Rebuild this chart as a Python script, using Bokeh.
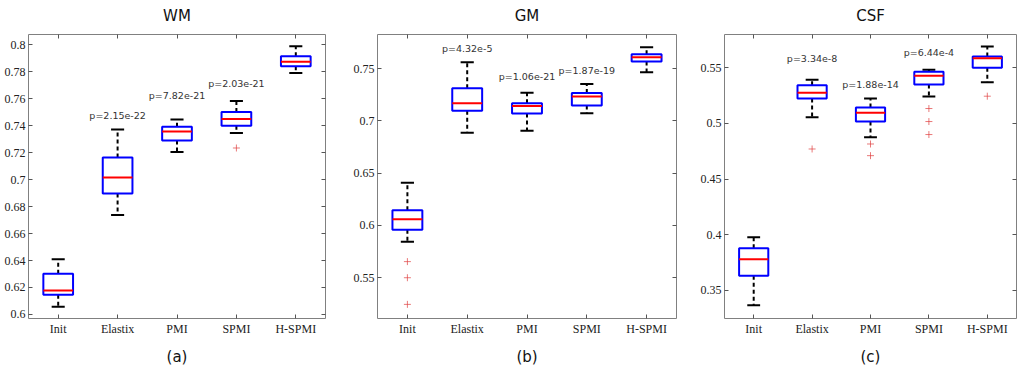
from bokeh.plotting import figure
from bokeh.layouts import row
from bokeh.models import (ColumnDataSource, FixedTicker, LinearAxis, Range1d,
                          CustomJSTickFormatter)
from bokeh.core.properties import value
from bokeh.embed import file_html
from bokeh.resources import INLINE

cats = ["Init", "Elastix", "PMI", "SPMI", "H-SPMI"]

# ---- WM ----
wm_low = [0.6058, 0.6738, 0.7206, 0.7347, 0.7791]
wm_q1 = [0.6146, 0.6897, 0.7290, 0.7400, 0.7841]
wm_med = [0.6177, 0.7016, 0.7358, 0.7450, 0.7874]
wm_q3 = [0.6302, 0.7164, 0.7392, 0.7502, 0.7916]
wm_high = [0.6410, 0.7373, 0.7447, 0.7584, 0.7990]
wm_out_cat = ["SPMI"]
wm_out_val = [0.7235]
wm_p_cat = ["Elastix", "PMI", "SPMI"]
wm_p_txt = ["p=2.15e-22", "p=7.82e-21", "p=2.03e-21"]
wm_p_y = [0.7478, 0.7627, 0.7714]
wm_ticks = [0.6, 0.62, 0.64, 0.66, 0.68, 0.7, 0.72, 0.74, 0.76, 0.78, 0.8]

# ---- GM ----
gm_low = [0.5843, 0.6887, 0.6906, 0.7072, 0.7465]
gm_q1 = [0.5958, 0.7096, 0.7070, 0.7146, 0.7567]
gm_med = [0.6060, 0.7168, 0.7142, 0.7232, 0.7608]
gm_q3 = [0.6146, 0.7312, 0.7168, 0.7266, 0.7637]
gm_high = [0.6408, 0.7560, 0.7268, 0.7353, 0.7704]
gm_out_cat = ["Init", "Init", "Init"]
gm_out_val = [0.5654, 0.5500, 0.5245]
gm_p_cat = ["Elastix", "PMI", "SPMI"]
gm_p_txt = ["p=4.32e-5", "p=1.06e-21", "p=1.87e-19"]
gm_p_y = [0.7688, 0.7423, 0.7481]
gm_ticks = [0.55, 0.6, 0.65, 0.7, 0.75]

# ---- CSF ----
csf_low = [0.3365, 0.5056, 0.4876, 0.5242, 0.5371]
csf_q1 = [0.3630, 0.5224, 0.5017, 0.5350, 0.5500]
csf_med = [0.3779, 0.5275, 0.5095, 0.5428, 0.5587]
csf_q3 = [0.3878, 0.5344, 0.5143, 0.5464, 0.5603]
csf_high = [0.3975, 0.5392, 0.5224, 0.5482, 0.5693]
csf_out_cat = ["Elastix", "PMI", "PMI", "SPMI", "SPMI", "SPMI", "H-SPMI"]
csf_out_val = [0.4770, 0.4815, 0.4710, 0.5134, 0.5017, 0.4900, 0.5245]
csf_p_cat = ["Elastix", "PMI", "SPMI"]
csf_p_txt = ["p=3.34e-8", "p=1.88e-14", "p=6.44e-4"]
csf_p_y = [0.5581, 0.5350, 0.5635]
csf_ticks = [0.35, 0.4, 0.45, 0.5, 0.55]

TICK_FONT = "Liberation Serif"
BOX_W = 0.5
CAP_W = 0.22
FRAME_H = 284


def make_panel(title, sub, low, q1, med, q3, high, out_cat, out_val,
               p_cat, p_txt, p_y, yticks, yr, fw, mbl, mbr):
    p = figure(frame_width=fw, frame_height=FRAME_H, output_backend="svg",
               toolbar_location=None, x_range=Range1d(0.5, 5.5),
               y_range=Range1d(*yr), min_border_left=mbl,
               min_border_right=mbr, min_border_top=29, min_border_bottom=0,
               title=title)
    p.title.align = "center"
    p.title.text_font = "DejaVu Sans"
    p.title.text_font_size = "15px"
    p.title.text_font_style = "normal"
    p.title.text_color = "#111111"
    p.title.standoff = 20
    p.grid.visible = False
    p.outline_line_color = "#808080"
    p.outline_line_width = 1
    p.background_fill_color = "white"
    p.border_fill_color = "white"

    xs = [cats.index(c) + 1 for c in cats]
    src = ColumnDataSource(dict(
        x=xs,
        bl=[x - BOX_W / 2 for x in xs], br=[x + BOX_W / 2 for x in xs],
        cl=[x - CAP_W / 2 for x in xs], cr=[x + CAP_W / 2 for x in xs],
        low=low, q1=q1, med=med, q3=q3, high=high))
    # whiskers
    p.segment(x0="x", y0="q3", x1="x", y1="high", source=src,
              line_color="black", line_width=2, line_dash="4 3")
    p.segment(x0="x", y0="q1", x1="x", y1="low", source=src,
              line_color="black", line_width=2, line_dash="4 3")
    # caps
    p.segment(x0="cl", y0="high", x1="cr", y1="high", source=src,
              line_color="black", line_width=2)
    p.segment(x0="cl", y0="low", x1="cr", y1="low", source=src,
              line_color="black", line_width=2)
    # boxes
    p.quad(left="bl", right="br", bottom="q1", top="q3", source=src,
           fill_color="white", fill_alpha=0.0, line_color="#0000ff",
           line_width=2)
    # medians
    p.segment(x0="bl", y0="med", x1="br", y1="med", source=src,
              line_color="#ff0000", line_width=2)
    # outliers
    osrc = ColumnDataSource(dict(x=[cats.index(c) + 1 for c in out_cat],
                                 y=out_val))
    p.scatter(x="x", y="y", source=osrc, marker="cross", size=7,
              line_color="#e04040", line_alpha=0.7, line_width=1)
    # p-values
    psrc = ColumnDataSource(dict(x=[cats.index(c) + 1 for c in p_cat],
                                 y=p_y, t=p_txt))
    p.text(x="x", y="y", text="t", source=psrc,
           text_font=value("DejaVu Sans"), text_font_size="9.5px",
           text_color="#333333", text_align="center",
           text_baseline="middle")

    # axes
    xt = FixedTicker(ticks=[1, 2, 3, 4, 5], minor_ticks=[])
    yt = FixedTicker(ticks=yticks, minor_ticks=[])
    fmt = CustomJSTickFormatter(code="return String(Math.round(tick*1000)/1000);")

    xa = p.xaxis[0]
    xa.ticker = xt
    xa.major_label_overrides = {i + 1: c for i, c in enumerate(cats)}
    xa.axis_label = sub
    xa.axis_label_text_font = "DejaVu Sans"
    xa.axis_label_text_font_size = "15px"
    xa.axis_label_text_font_style = "normal"
    xa.axis_label_text_color = "#111111"
    xa.axis_label_standoff = 9

    ya = p.yaxis[0]
    ya.ticker = yt
    ya.formatter = fmt

    for ax in (xa, ya):
        ax.axis_line_color = None
        ax.major_tick_in = 4
        ax.major_tick_out = 0
        ax.minor_tick_line_color = None
        ax.major_tick_line_color = "#555555"
        ax.major_label_text_font = TICK_FONT
        ax.major_label_text_font_size = "12px"
        ax.major_label_text_color = "#222222"
        ax.major_label_standoff = 3

    top = LinearAxis(ticker=xt)
    right = LinearAxis(ticker=yt)
    for ax in (top, right):
        ax.axis_line_color = None
        ax.major_tick_in = 4
        ax.major_tick_out = 0
        ax.minor_tick_line_color = None
        ax.major_tick_line_color = "#555555"
        ax.major_label_text_font_size = "1px"
        ax.major_label_text_color = None
        ax.major_label_standoff = 0
    p.add_layout(top, "above")
    p.add_layout(right, "right")
    return p


pa = make_panel("WM", "(a)", wm_low, wm_q1, wm_med, wm_q3, wm_high,
                wm_out_cat, wm_out_val, wm_p_cat, wm_p_txt, wm_p_y,
                wm_ticks, (0.597, 0.8077), 297, 28, 25)
pb = make_panel("GM", "(b)", gm_low, gm_q1, gm_med, gm_q3, gm_high,
                gm_out_cat, gm_out_val, gm_p_cat, gm_p_txt, gm_p_y,
                gm_ticks, (0.511, 0.7826), 299, 25, 21)
pc = make_panel("CSF", "(c)", csf_low, csf_q1, csf_med, csf_q3, csf_high,
                csf_out_cat, csf_out_val, csf_p_cat, csf_p_txt, csf_p_y,
                csf_ticks, (0.3245, 0.580), 292, 25, 1)

layout = row(pa, pb, pc, styles={"margin-top": "-6px"})
open("out.html", "w").write(file_html(layout, INLINE))
